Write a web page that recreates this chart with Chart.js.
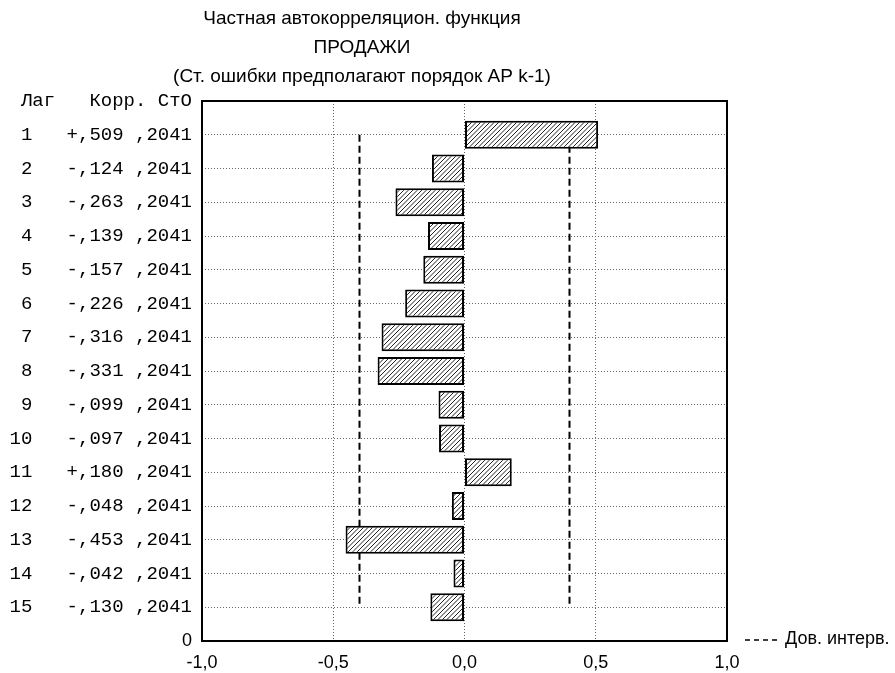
<!DOCTYPE html>
<html>
<head>
<meta charset="utf-8">
<script src="https://cdn.jsdelivr.net/npm/chart.js@4/dist/chart.umd.min.js"></script>
<style>
	html, body { margin: 0; background: #fff; }
	#wrap { width: 895px; height: 673px; }
</style>
</head>
<body>
<div id="wrap"><canvas id="pacf"></canvas></div>
<script>
"use strict";

// values
const titleLines = ['Частная автокорреляцион. функция', 'ПРОДАЖИ', '(Ст. ошибки предполагают порядок АР k-1)']
const tableHeader = 'Лаг   Корр. СтО'
const lags = [1, 2, 3, 4, 5, 6, 7, 8, 9, 10, 11, 12, 13, 14, 15]
const corr = [0.509, -0.124, -0.263, -0.139, -0.157, -0.226, -0.316, -0.331, -0.099, -0.097, 0.180, -0.048, -0.453, -0.042, -0.130]
const stdErr = [0.2041, 0.2041, 0.2041, 0.2041, 0.2041, 0.2041, 0.2041, 0.2041, 0.2041, 0.2041, 0.2041, 0.2041, 0.2041, 0.2041, 0.2041]
const confLow = -0.4
const confHigh = 0.4
const confLabel = 'Дов. интерв.'

const fmtCorr = (v) => (v >= 0 ? '+' : '-') + ',' + String(Math.round(Math.abs(v) * 1000)).padStart(3, '0')
const fmtSe = (v) => ',' + String(Math.round(v * 10000))

function rowLabel(i) {
	return String(lags[i]).padStart(3, ' ') + '   ' + fmtCorr(corr[i]) + ' ' + fmtSe(stdErr[i])
}

// diagonal hatch for the bars
function hatch() {
	const c = document.createElement('canvas')
	c.width = 9
	c.height = 9
	const g = c.getContext('2d')
	g.fillStyle = '#fff'
	g.fillRect(0, 0, 9, 9)
	g.strokeStyle = '#222'
	g.lineWidth = 1
	for (const k of [0, 4.5, 9, 13.5, 18]) {
		g.beginPath()
		g.moveTo(k + 1, -1)
		g.lineTo(k - 10, 10)
		g.stroke()
	}
	return g.createPattern(c, 'repeat')
}

const decor = {
	id: 'decor',
	afterDraw(chart) {
		const {ctx, chartArea: a} = chart
		ctx.save()
		ctx.lineWidth = 2
		ctx.strokeStyle = '#000'
		ctx.strokeRect(a.left, a.top, a.right - a.left, a.bottom - a.top)

		ctx.fillStyle = '#000'
		ctx.font = '19px "Liberation Sans", Arial, sans-serif'
		ctx.textAlign = 'center'
		ctx.textBaseline = 'middle'
		titleLines.forEach((t, i) => ctx.fillText(t, 362, 19 + i * 29))

		// legend for the dashed limits
		const ly = a.bottom - 1
		ctx.lineWidth = 1.5
		ctx.setLineDash([5, 4])
		ctx.beginPath()
		ctx.moveTo(745, ly)
		ctx.lineTo(778, ly)
		ctx.stroke()
		ctx.setLineDash([])
		ctx.font = '18px "Liberation Sans", Arial, sans-serif'
		ctx.textAlign = 'left'
		ctx.fillText(confLabel, 785, ly - 1)
		ctx.restore()
	}
}

const monoFont = {family: '"Liberation Mono", "Courier New", monospace', size: 19}
const sansFont = {family: '"Liberation Sans", Arial, sans-serif', size: 18}

new Chart(document.getElementById('pacf'), {
	type: 'bar',
	data: {
		datasets: [{
			label: 'Корр.',
			data: lags.map((l, i) => ({x: corr[i], y: l})),
			backgroundColor: hatch(),
			borderColor: '#000',
			borderWidth: 2,
			borderSkipped: false,
			barPercentage: 0.83,
			categoryPercentage: 1
		}, {
			type: 'line',
			label: confLabel,
			data: [{x: confLow, y: lags[0]}, {x: confLow, y: lags[lags.length - 1]}],
			borderColor: '#000',
			borderWidth: 2,
			borderDash: [7, 4],
			pointRadius: 0,
			fill: false
		}, {
			type: 'line',
			label: confLabel,
			data: [{x: confHigh, y: lags[0]}, {x: confHigh, y: lags[lags.length - 1]}],
			borderColor: '#000',
			borderWidth: 2,
			borderDash: [7, 4],
			pointRadius: 0,
			fill: false
		}]
	},
	options: {
		indexAxis: 'y',
		responsive: true,
		maintainAspectRatio: false,
		animation: false,
		layout: {padding: {top: 101, right: 168, bottom: 0, left: 0}},
		plugins: {
			legend: {display: false},
			tooltip: {enabled: false}
		},
		scales: {
			x: {
				type: 'linear',
				min: -1,
				max: 1,
				afterFit: (s) => { s.height = 32 },
				ticks: {
					stepSize: 0.5,
					padding: 11,
					color: '#000',
					font: sansFont,
					callback: (v) => v.toFixed(1).replace('.', ',')
				},
				grid: {color: '#666', lineWidth: 1, drawTicks: false},
				border: {display: false, dash: [1, 2]}
			},
			y: {
				type: 'linear',
				reverse: true,
				min: 0,
				max: lags.length + 1,
				offset: false,
				afterFit: (s) => { s.width = 202 },
				ticks: {
					stepSize: 1,
					padding: 10,
					color: '#000',
					autoSkip: false,
					font: (c) => (c.tick && c.tick.value === lags.length + 1) ? sansFont : monoFont,
					callback: (v) => {
						if (v === 0) return tableHeader
						if (v === lags.length + 1) return '0'
						return rowLabel(v - 1)
					}
				},
				grid: {color: '#666', lineWidth: 1, drawTicks: false, offset: false},
				border: {display: false, dash: [1, 2]}
			}
		}
	},
	plugins: [decor]
})
</script>
</body>
</html>
